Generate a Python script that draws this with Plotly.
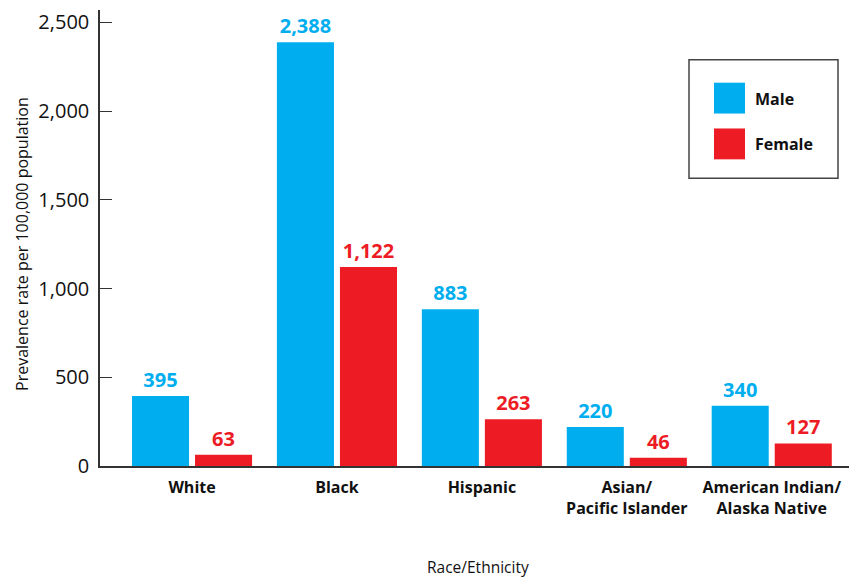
import plotly.graph_objects as go

categories = ["White", "Black", "Hispanic", "Asian/<br>Pacific Islander", "American Indian/<br>Alaska Native"]
male = [395, 2388, 883, 220, 340]
female = [63, 1122, 263, 46, 127]
y_ticks = [0, 500, 1000, 1500, 2000, 2500]
y_tick_labels = ["0", "500", "1,000", "1,500", "2,000", "2,500"]

MALE_C = "#00AEEF"
FEMALE_C = "#ED1C24"
FONT = "Open Sans"

fig = go.Figure()
fig.add_trace(go.Bar(x=categories, y=male, name="Male", marker=dict(color=MALE_C, line=dict(width=0)),
                     texttemplate="%{y:,}", textposition="outside", cliponaxis=False,
                     textfont=dict(color=MALE_C, size=20, family=FONT, weight="bold")))
fig.add_trace(go.Bar(x=categories, y=female, name="Female", marker=dict(color=FEMALE_C, line=dict(width=0)),
                     texttemplate="%{y:,}", textposition="outside", cliponaxis=False,
                     textfont=dict(color=FEMALE_C, size=20, family=FONT, weight="bold")))

# page has an 8px body margin: figure origin sits at (8, 8)
fig.update_layout(
    width=849, height=570,
    margin=dict(l=92, r=7, t=0, b=112),
    paper_bgcolor="white", plot_bgcolor="white",
    barmode="group", bargap=0.13, bargroupgap=0.095,
    showlegend=False,
    font=dict(family=FONT, color="#111"),
    xaxis=dict(type="category", range=[-0.635, 4.54], showline=True, linecolor="#333", linewidth=1.5,
               ticks="", tickfont=dict(size=16, family=FONT, weight="bold", color="#111"),
               ticklabelstandoff=6, showgrid=False, zeroline=False),
    yaxis=dict(range=[0, 2570], showline=True, linecolor="#333", linewidth=1.5,
               tickvals=y_ticks, ticktext=y_tick_labels, ticks="inside", ticklen=12, tickcolor="#333",
               tickwidth=1.2, tickfont=dict(size=20, family=FONT, color="#111"),
               ticklabeloverflow="allow", ticklabelstandoff=5,
               showgrid=False, zeroline=False),
)

# pixel (in the page) -> paper coords; plot area spans x 100..850, y 8..466
def px_x(p):
    return (p - 100) / 750
def px_y(p):
    return (466 - p) / 458

fig.add_annotation(text="Race/Ethnicity", xref="paper", yref="paper", x=px_x(478), y=px_y(567),
                   xanchor="center", yanchor="middle", showarrow=False,
                   font=dict(size=15.5, family=FONT, color="#111"))
fig.add_annotation(text="Prevalence rate per 100,000 population", xref="paper", yref="paper",
                   x=px_x(22), y=px_y(243), xanchor="center", yanchor="middle",
                   textangle=-90, showarrow=False,
                   font=dict(size=16, family=FONT, color="#111"))

# custom legend box
fig.add_shape(type="rect", xref="paper", yref="paper", x0=px_x(689), x1=px_x(838), y0=px_y(177), y1=px_y(58),
              line=dict(color="#444", width=1.5), fillcolor="white")
for name, col, ytop in [("Male", MALE_C, 81), ("Female", FEMALE_C, 127)]:
    fig.add_shape(type="rect", xref="paper", yref="paper", x0=px_x(714), x1=px_x(745),
                  y0=px_y(ytop + 31), y1=px_y(ytop), line=dict(width=0), fillcolor=col)
    fig.add_annotation(text=name, xref="paper", yref="paper", x=px_x(753), y=px_y(ytop + 16),
                       xanchor="left", yanchor="middle", showarrow=False,
                       font=dict(size=16, family=FONT, weight="bold", color="#111"))

fig.write_html("out.html")
